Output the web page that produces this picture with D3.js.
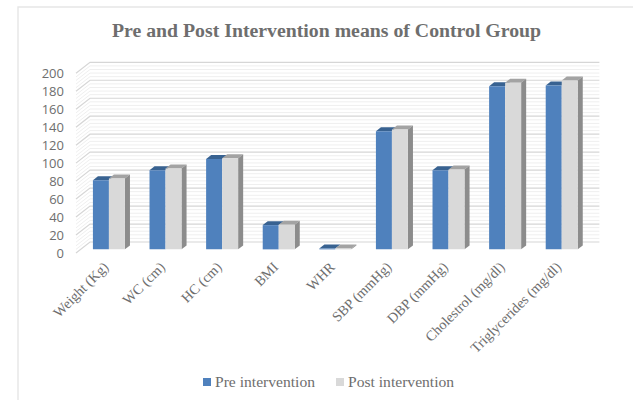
<!DOCTYPE html>
<html>
<head>
<meta charset="utf-8">
<style>
html,body{margin:0;padding:0;background:#fff;}
svg{display:block;}
text{font-family:"Liberation Serif","DejaVu Serif",serif;fill:#6e6e6e;}
</style>
<script src="https://cdn.jsdelivr.net/npm/d3@7"></script>
</head>
<body>
<svg id="chart" width="633" height="400"></svg>
<script>
const categories = ["Weight (Kg)","WC (cm)","HC (cm)","BMI","WHR","SBP (mmHg)","DBP (mmHg)","Cholestrol (mg/dl)","Triglycerides (mg/dl)"];
const preValues = [77,88,100.5,27,0.9,131.5,88,181.5,182.5];
const postValues = [79,90,101.5,27.5,0.9,133.5,89,185.5,188];
const seriesNames = ["Pre intervention","Post intervention"];
const yTicks = [0,20,40,60,80,100,120,140,160,180,200];
const minorTicks = d3.range(0,200.01,4);

const svg = d3.select("#chart");
const x = d3.scaleBand().domain(categories).range([76,585.4]);
const y = d3.scaleLinear().domain([0,200]).range([253,73.3]);

// Oblique projection of the 3D column chart: depth 0 is the front plane, 1 the back wall.
const depthX = 14, depthY = 11;
const px = (v,d) => v + d*depthX;
const py = (v,d) => v - d*depthY;
const barFront = 0.33, barBack = 0.69;
const groupW = 16;

// chart frame, left and top edges
svg.append("path").attr("d","M18,400V7H633").attr("fill","none")
  .attr("stroke","#e6e6e6").attr("stroke-width",1.4);

// wall gridlines
const grid = svg.append("g").attr("fill","none");
function gridLine(t,color,w){
  const pts = [[px(x.range()[0],0),py(y(t),0)],[px(x.range()[0],1),py(y(t),1)],[px(x.range()[1],1),py(y(t),1)]];
  grid.append("path").attr("d",d3.line()(pts)).attr("stroke",color).attr("stroke-width",w);
}
minorTicks.filter(t=>!yTicks.includes(t)).forEach(t=>gridLine(t,"#efefef",1));
yTicks.forEach(t=>gridLine(t,"#d6d6d6",1.2));

// columns
function face(pts,fill){
  return bars.append("path").attr("d",d3.line()(pts)+"Z").attr("fill",fill);
}
const bars = svg.append("g");
const series = [
  {vals:preValues,front:"#4f81bd",top:"#386291",side:"#386291",off:0},
  {vals:postValues,front:"#d9d9d9",top:"#a3a3a3",side:"#8c8c8c",off:1}
];
categories.forEach((c,i)=>{
  const cx = x(c)+x.bandwidth()/2 - groupW;
  series.forEach(s=>{
    const v = s.vals[i];
    const l = px(cx+s.off*groupW,barFront), r = l+groupW;
    const b = py(y(0),barFront), t = py(y(v),barFront);
    const dx = (barBack-barFront)*depthX, dy = (barBack-barFront)*depthY;
    face([[l,t],[l+dx,t-dy],[r+dx,t-dy],[r,t]],s.top);
    if(s.off===1) face([[r,b],[r+dx,b-dy],[r+dx,t-dy],[r,t]],s.side);
    face([[l,b],[r,b],[r,t],[l,t]],s.front);
  });
});

// value axis
svg.append("g").selectAll("text").data(yTicks).join("text")
  .attr("x",64).attr("y",d=>y(d)+4.5)
  .attr("text-anchor","end")
  .style("font-family","'Open Sans',sans-serif").style("font-size","13px")
  .text(d=>d);

// category axis
svg.append("g").selectAll("text").data(categories).join("text")
  .attr("text-anchor","end")
  .attr("transform",d=>`translate(${x(d)+x.bandwidth()/2+5},${268}) rotate(-45)`)
  .style("font-size","14.2px")
  .text(d=>d);

// title
svg.append("text").attr("x",326.5).attr("y",37).attr("text-anchor","middle")
  .style("font-size","19.8px").style("font-weight","bold").text("Pre and Post Intervention means of Control Group");

// legend
const legendX = [203,336], legendColors = ["#4f81bd","#d9d9d9"];
const legend = svg.append("g");
seriesNames.forEach((n,i)=>{
  legend.append("rect").attr("x",legendX[i]).attr("y",378).attr("width",8).attr("height",8).attr("fill",legendColors[i]);
  legend.append("text").attr("x",legendX[i]+12).attr("y",387).style("font-size","15.6px").text(n);
});
</script>
</body>
</html>
